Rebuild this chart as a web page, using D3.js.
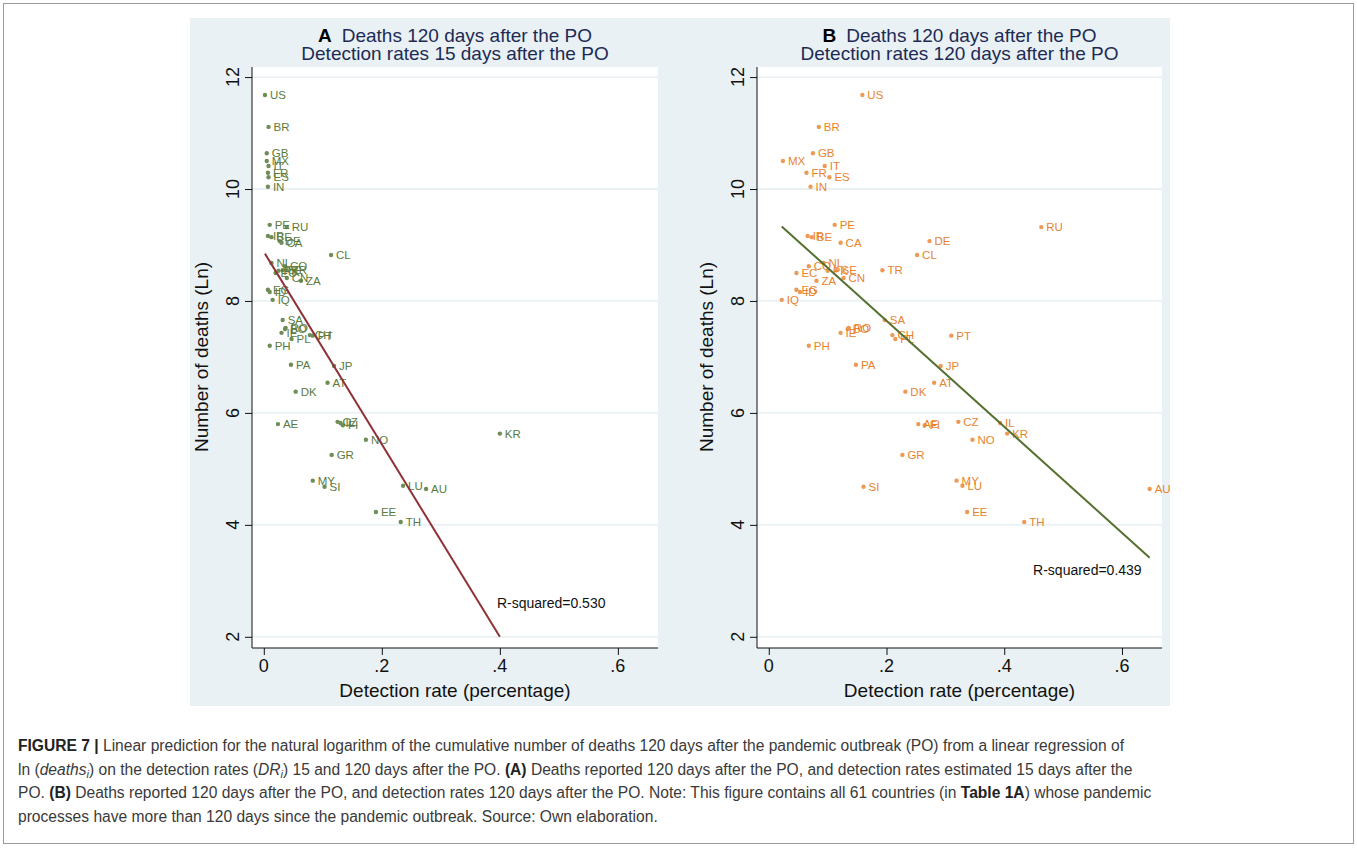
<!DOCTYPE html>
<html>
<head>
<meta charset="utf-8">
<script src="https://cdn.jsdelivr.net/npm/d3@7"></script>
<style>
  body { margin: 0; background: #fff; }
  svg text { font-family: "Liberation Sans", Arial, sans-serif; }
</style>
</head>
<body>
<svg id="fig" width="1357" height="848"></svg>
<script>
// country codes (ISO-2)
const countries = ["US","BR","GB","MX","IT","FR","ES","IN","PE","RU","IR","BE","DE","CA","CL",
  "NL","CO","TR","PK","SE","EC","CN","ZA","EG","ID","IQ","SA","RO","BO","IE","CH","PL","PT",
  "PH","PA","JP","AT","DK","IL","KR","CZ","AE","FI","NO","GR","MY","LU","SI","AU","EE","TH"];

// ln(deaths) 120 days after the PO (same in both panels)
const lnDeaths = [11.68,11.11,10.64,10.50,10.41,10.29,10.21,10.04,9.36,9.32,9.16,9.14,9.07,9.04,8.82,
  8.68,8.62,8.55,8.54,8.55,8.50,8.41,8.36,8.20,8.16,8.02,7.66,7.52,7.50,7.43,7.39,7.32,7.38,
  7.20,6.86,6.84,6.54,6.38,5.82,5.63,5.84,5.80,5.78,5.52,5.25,4.79,4.70,4.68,4.64,4.23,4.05];

// detection rates 15 days after the PO (panel A)
const dr15 = [0.002,0.008,0.005,0.005,0.008,0.007,0.008,0.007,0.010,0.039,0.007,0.013,0.027,0.030,0.114,
  0.013,0.036,0.039,0.025,0.032,0.020,0.039,0.063,0.007,0.010,0.015,0.032,0.037,0.036,0.030,0.078,0.047,0.083,
  0.010,0.046,0.119,0.108,0.054,0.130,0.400,0.125,0.024,0.134,0.173,0.115,0.083,0.236,0.103,0.275,0.190,0.232];

// detection rates 120 days after the PO (panel B)
const dr120 = [0.159,0.085,0.075,0.024,0.095,0.064,0.103,0.071,0.112,0.463,0.066,0.073,0.273,0.122,0.252,
  0.093,0.068,0.193,0.100,0.115,0.047,0.127,0.081,0.047,0.053,0.022,0.197,0.136,0.134,0.122,0.210,0.215,0.310,
  0.068,0.148,0.292,0.281,0.232,0.393,0.405,0.322,0.254,0.265,0.346,0.227,0.319,0.329,0.161,0.647,0.337,0.434];

// fitted lines (intercept, slope) and R-squared
const fitA = { intercept: 8.88, slope: -17.2, r2: "0.530" };
const fitB = { intercept: 9.54, slope: -9.47, r2: "0.439" };

const xTicks = [0, 0.2, 0.4, 0.6];
const xTickLabels = ["0", ".2", ".4", ".6"];
const yTicks = [2, 4, 6, 8, 10, 12];

const captionLines = [
  [["b","FIGURE 7 | "],["n","Linear prediction for the natural logarithm of the cumulative number of deaths 120 days after the pandemic outbreak (PO) from a linear regression of"]],
  [["n","ln ("],["i","deaths"],["sub","i"],["n",") on the detection rates ("],["i","DR"],["sub","i"],["n",") 15 and 120 days after the PO. "],["b","(A)"],["n"," Deaths reported 120 days after the PO, and detection rates estimated 15 days after the"]],
  [["n","PO. "],["b","(B)"],["n"," Deaths reported 120 days after the PO, and detection rates 120 days after the PO. Note: This figure contains all 61 countries (in "],["b","Table 1A"],["n",") whose pandemic"]],
  [["n","processes have more than 120 days since the pandemic outbreak. Source: Own elaboration."]]
];

const svg = d3.select("#fig");

// outer frame
svg.append("rect").attr("x", 3.5).attr("y", 3.5).attr("width", 1350).attr("height", 840)
  .attr("fill", "none").attr("stroke", "#9a9a9a").attr("stroke-width", 1);

// graph region background
svg.append("rect").attr("x", 190).attr("y", 18).attr("width", 980).attr("height", 688)
  .attr("fill", "#eaf1f4");

function drawPanel(cfg) {
  const x = d3.scaleLinear().domain([-0.02, 0.668]).range([cfg.left, cfg.right]);
  const y = d3.scaleLinear().domain([1.8, 12.18]).range([648, 67]);

  const g = svg.append("g");

  g.append("rect").attr("x", cfg.left).attr("y", 67)
    .attr("width", cfg.right - cfg.left).attr("height", 581).attr("fill", "#fff");

  // grid
  g.selectAll(".grid").data(yTicks).join("line")
    .attr("x1", cfg.left).attr("x2", cfg.right)
    .attr("y1", d => y(d)).attr("y2", d => y(d))
    .attr("stroke", "#e3ecf1").attr("stroke-width", 1.3);

  // axes
  const ya = g.append("g").attr("transform", `translate(${cfg.left},0)`)
    .call(d3.axisLeft(y).tickValues(yTicks).tickSize(7).tickFormat(""));
  ya.select(".domain").attr("stroke", "#111").attr("d", `M0,67V648`);
  ya.selectAll(".tick line").attr("stroke", "#111");

  g.selectAll(".ylab").data(yTicks).join("text")
    .attr("transform", d => `translate(${cfg.left - 19},${y(d)}) rotate(-90)`)
    .attr("text-anchor", "middle").attr("dy", "0.35em")
    .attr("font-size", 18).attr("fill", "#111").text(d => d);

  const xa = g.append("g").attr("transform", "translate(0,648)")
    .call(d3.axisBottom(x).tickValues(xTicks).tickSize(7).tickFormat(""));
  xa.select(".domain").attr("stroke", "#111").attr("d", `M${cfg.left},0H${cfg.right}`);
  xa.selectAll(".tick line").attr("stroke", "#111");

  g.selectAll(".xlab").data(xTicks).join("text")
    .attr("x", d => x(d)).attr("y", 672)
    .attr("text-anchor", "middle").attr("font-size", 18).attr("fill", "#111")
    .text((d, i) => xTickLabels[i]);

  const cx = (cfg.left + cfg.right) / 2;
  g.append("text").attr("x", cx).attr("y", 697).attr("text-anchor", "middle")
    .attr("font-size", 19).attr("fill", "#111").text("Detection rate (percentage)");
  g.append("text").attr("transform", `translate(${cfg.left - 51},357) rotate(-90)`)
    .attr("text-anchor", "middle").attr("dy", "0.35em")
    .attr("font-size", 19).attr("fill", "#111").text("Number of deaths (Ln)");

  // title
  const t = g.append("text").attr("x", cx).attr("y", 42).attr("text-anchor", "middle")
    .attr("font-size", 19).attr("fill", "#1c2b55");
  t.append("tspan").attr("font-weight", "bold").attr("fill", "#000").text(cfg.letter);
  t.append("tspan").attr("dx", 10).text(cfg.title1);
  g.append("text").attr("x", cx).attr("y", 60).attr("text-anchor", "middle")
    .attr("font-size", 19).attr("fill", "#1c2b55").text(cfg.title2);

  // points
  const pts = countries.map((c, i) => ({ c, x: cfg.xs[i], y: lnDeaths[i] }));
  g.selectAll(".pt").data(pts).join("circle")
    .attr("cx", d => x(d.x)).attr("cy", d => y(d.y)).attr("r", 2.2)
    .attr("fill", cfg.color);
  g.selectAll(".lab").data(pts).join("text")
    .attr("x", d => x(d.x) + 5).attr("y", d => y(d.y)).attr("dy", "0.36em")
    .attr("font-size", 11.5).attr("fill", cfg.labelColor).text(d => d.c);

  // fitted line
  const x0 = d3.min(cfg.xs), x1 = d3.max(cfg.xs);
  g.append("line")
    .attr("x1", x(x0)).attr("y1", y(cfg.fit.intercept + cfg.fit.slope * x0))
    .attr("x2", x(x1)).attr("y2", y(cfg.fit.intercept + cfg.fit.slope * x1))
    .attr("stroke", cfg.lineColor).attr("stroke-width", 2);

  g.append("text").attr("x", x(cfg.r2Pos[0])).attr("y", y(cfg.r2Pos[1])).attr("dy", "0.35em")
    .attr("font-size", 14).attr("fill", "#111").text("R-squared=" + cfg.fit.r2);
}

drawPanel({ left: 252, right: 658, letter: "A", title1: "Deaths 120 days after the PO",
  title2: "Detection rates 15 days after the PO", xs: dr15, fit: fitA, r2Pos: [0.395, 2.6],
  color: "#6f8d56", labelColor: "#5b7a3c", lineColor: "#8e3238" });
drawPanel({ left: 757, right: 1162, letter: "B", title1: "Deaths 120 days after the PO",
  title2: "Detection rates 120 days after the PO", xs: dr120, fit: fitB, r2Pos: [0.449, 3.2],
  color: "#ec9a55", labelColor: "#e8832c", lineColor: "#55702f" });

// caption
const cap = svg.append("g").attr("class", "caption");
captionLines.forEach((line, i) => {
  const t = cap.append("text").attr("x", 18).attr("y", 751 + i * 23.5)
    .attr("font-size", 15.6).attr("fill", "#3a3a3a");
  let afterSub = false;
  line.forEach(([k, s]) => {
    const sp = t.append("tspan").text(s);
    if (k === "b") sp.attr("font-weight", "bold").attr("fill", "#222");
    if (k === "i") sp.attr("font-style", "italic");
    if (k === "sub") sp.attr("font-style", "italic").attr("font-size", 11).attr("dy", 3);
    else if (afterSub) sp.attr("dy", -3);
    afterSub = k === "sub";
  });
});
</script>
</body>
</html>
